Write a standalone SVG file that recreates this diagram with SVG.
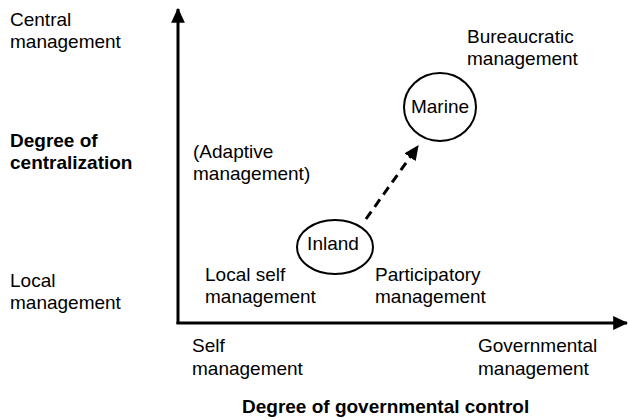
<svg xmlns="http://www.w3.org/2000/svg" width="629" height="420" viewBox="0 0 629 420">
<style>
text{font-family:"Liberation Sans",Arial,sans-serif;font-size:19px;fill:#000}
.b{font-weight:bold}
.ax{stroke:#000;stroke-width:3;fill:none}
.node{fill:#fff;stroke:#000;stroke-width:2}
.dash{stroke:#000;stroke-width:3;stroke-dasharray:9 6;fill:none}
</style>
<defs>
<marker id="ah" markerWidth="5" markerHeight="4.6" refX="4.6" refY="2.3" orient="auto" markerUnits="strokeWidth" viewBox="0 0 5 4.6">
<path d="M0,0 L5,2.3 L0,4.6 z" fill="#000"/>
</marker>
</defs>
<g id="connectors">
<path class="ax" d="M178,324 L178,9" marker-end="url(#ah)"/>
<path class="ax" d="M176.5,323 L627,323" marker-end="url(#ah)"/>
<path class="dash" d="M366,219 L418,146" marker-end="url(#ah)"/>
</g>
<g id="node-marine">
<ellipse class="node" cx="440" cy="107" rx="36" ry="34"/>
<text x="440" y="113" text-anchor="middle">Marine</text>
</g>
<g id="node-inland">
<ellipse class="node" cx="335" cy="247" rx="38" ry="27"/>
<text x="333" y="250" text-anchor="middle">Inland</text>
</g>
<g id="labels">
<text x="10" y="26">Central</text>
<text x="10" y="48">management</text>
<text class="b" x="10" y="147">Degree of</text>
<text class="b" x="10" y="169">centralization</text>
<text x="10" y="287">Local</text>
<text x="10" y="309">management</text>
<text x="193" y="158">(Adaptive</text>
<text x="193" y="180">management)</text>
<text x="467" y="43">Bureaucratic</text>
<text x="467" y="65">management</text>
<text x="205" y="281">Local self</text>
<text x="205" y="303">management</text>
<text x="375" y="281">Participatory</text>
<text x="375" y="303">management</text>
<text x="192" y="352">Self</text>
<text x="192" y="375">management</text>
<text x="478" y="352">Governmental</text>
<text x="478" y="375">management</text>
<text class="b" x="242" y="413">Degree of governmental control</text>
</g>
</svg>
